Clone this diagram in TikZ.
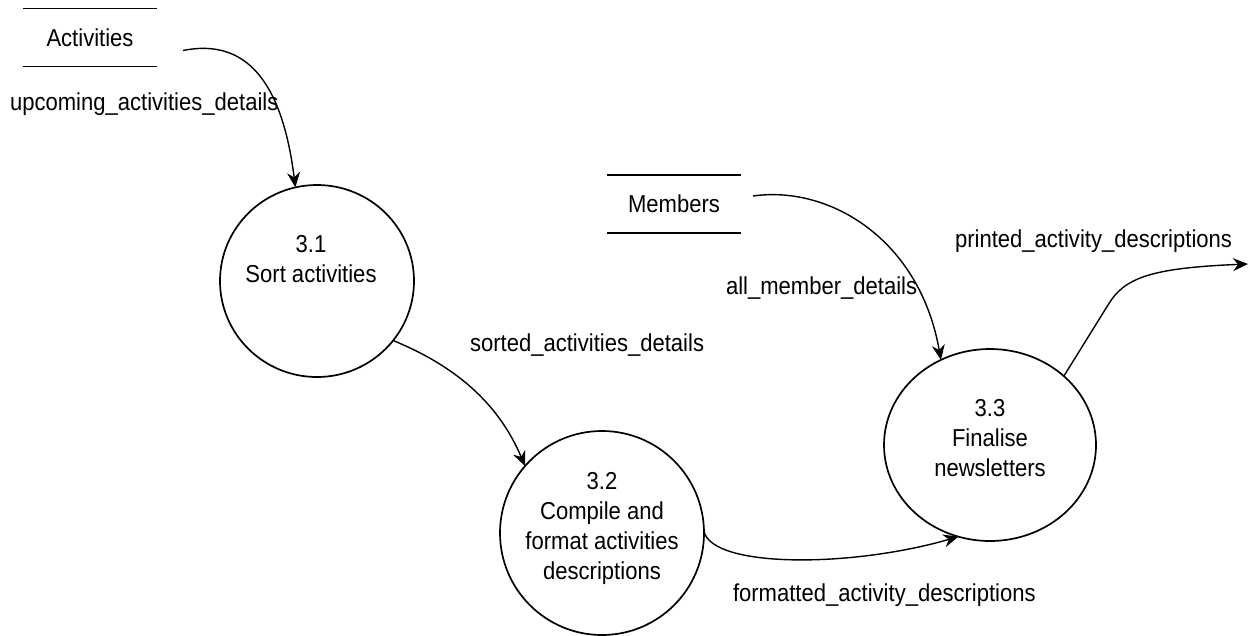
\documentclass[tikz,border=0pt]{standalone}
\usepackage{fontspec}
\setmainfont{Liberation Sans}[FakeStretch=0.9]
\usetikzlibrary{arrows.meta,shapes.geometric}
\begin{document}
\begin{tikzpicture}[x=1pt,y=-1pt,
  every node/.style={font=\fontsize{24.5}{30}\selectfont, inner sep=0pt, outer sep=0pt},
  proc/.style={draw, ellipse, line width=1.7pt},
  ptext/.style={align=center, anchor=north},
  store/.style={minimum width=134pt, minimum height=58pt},
  storeline/.style={line width=1.5pt},
  flow/.style={line width=1.4pt, -{Stealth[length=15pt,width=13pt,inset=5pt]}},
  lbl/.style={anchor=base west}]
\useasboundingbox (0,0) rectangle (1250,635);

% data stores
\node[store] (act) at (90,37.5) {Activities};
\draw[storeline] (act.north west) -- (act.north east);
\draw[storeline] (act.south west) -- (act.south east);
\node[store] (mem) at (674,204) {Members};
\draw[storeline] (mem.north west) -- (mem.north east);
\draw[storeline] (mem.south west) -- (mem.south east);

% processes
\node[proc, minimum width=194pt, minimum height=192pt] (p31) at (317,281) {};
\node[ptext] (p31t) at (311,235.5) {3.1\\Sort activities};
\node[proc, minimum width=204pt, minimum height=204pt] (p32) at (602,533) {};
\node[ptext] (p32t) at (602,472.5) {3.2\\Compile and\\format activities\\descriptions};
\node[proc, minimum width=212pt, minimum height=192pt] (p33) at (990,445) {};
\node[ptext] (p33t) at (990,399.5) {3.3\\Finalise\\newsletters};

% data flows
\draw[flow] ([xshift=26pt,yshift=-13pt]act.east) .. controls (245,38) and (282,80) .. (p31.103.2);
\draw[flow] (p31.-38.7) .. controls (445,362) and (495,395) .. (p32.139.8);
\draw[flow] ([xshift=12pt,yshift=8pt]mem.east) .. controls (830,185) and (920,240) .. (p33.120.6);
\draw[flow] (p32.1) .. controls (712,568) and (850,568) .. (p33.-109.7);
\coordinate (out) at (1248,264);
\draw[flow] (p33.43.8) -- (1108,305) .. controls (1124,278) and (1150,268) .. (out);

% flow labels
\node[lbl] (l1) at (10,110) {upcoming\_activities\_details};
\node[lbl] (l2) at (470,351) {sorted\_activities\_details};
\node[lbl] (l3) at (726,294) {all\_member\_details};
\node[lbl] (l4) at (733,601) {formatted\_activity\_descriptions};
\node[anchor=base east] (l5) at (1232,247) {printed\_activity\_descriptions};
\end{tikzpicture}
\end{document}
